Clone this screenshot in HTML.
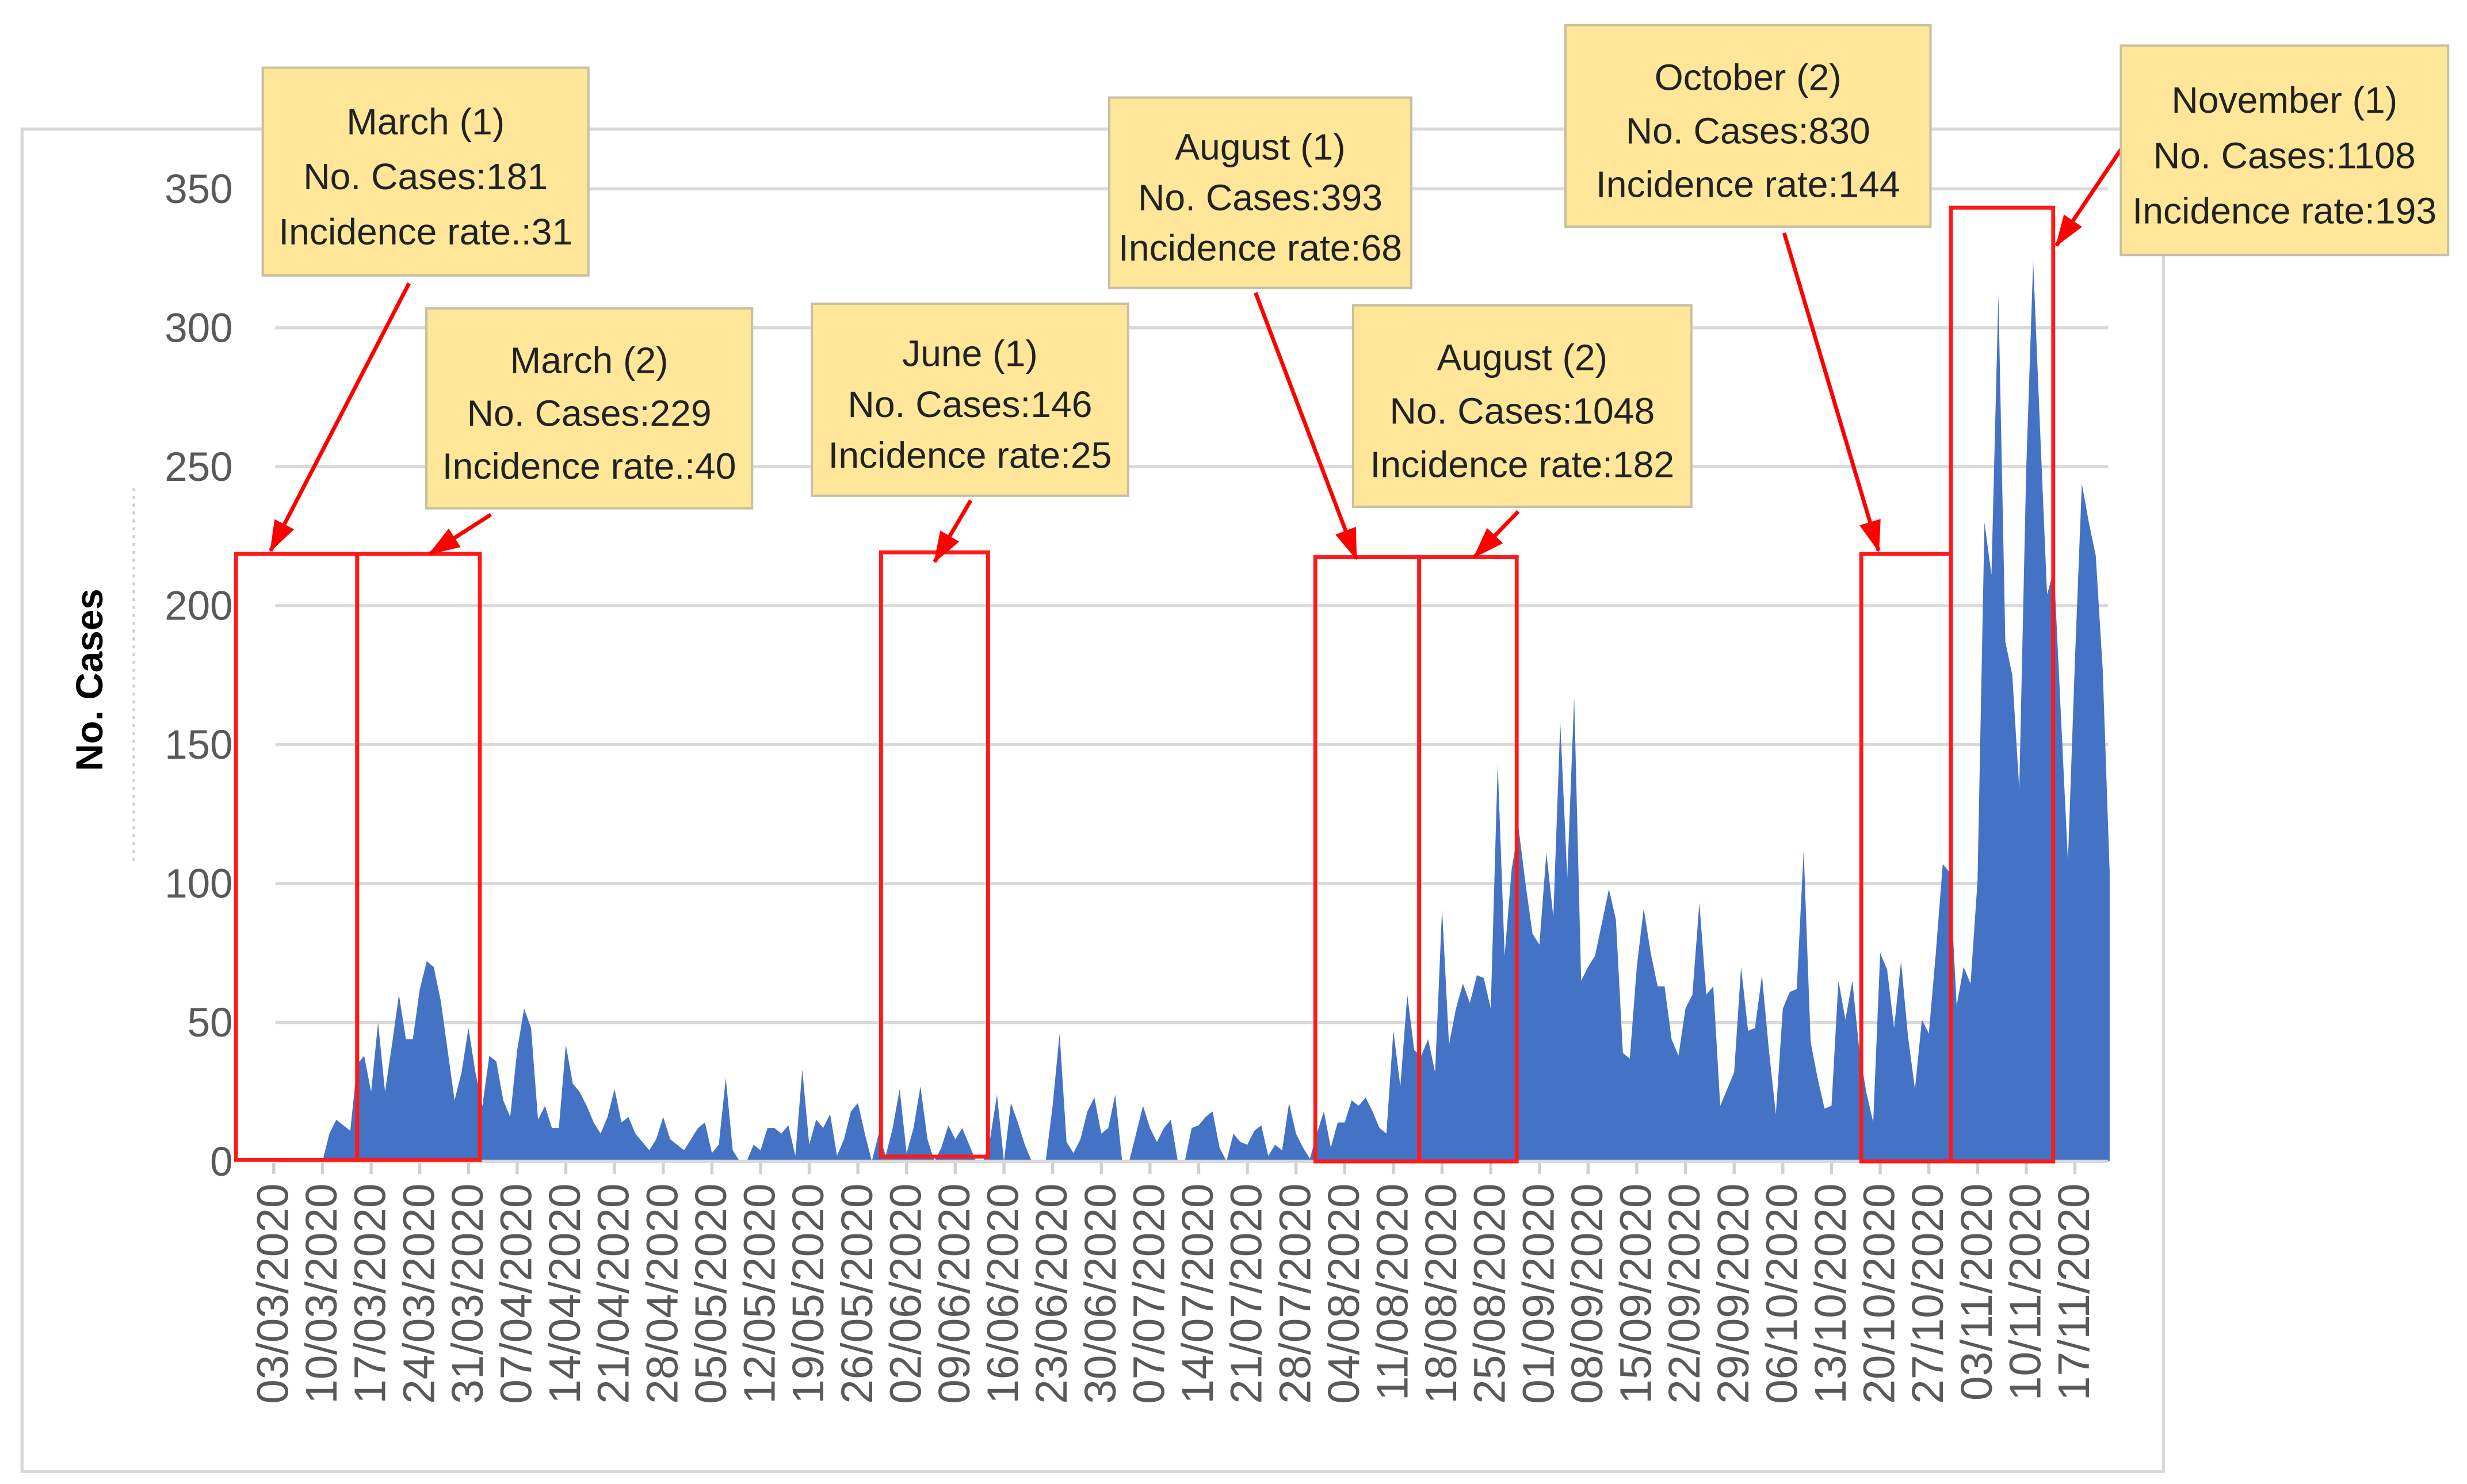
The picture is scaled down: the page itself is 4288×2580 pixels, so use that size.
<!DOCTYPE html>
<html><head><meta charset="utf-8"><style>
html,body{margin:0;padding:0;background:#fff;}
svg{display:block;}
text{font-family:"Liberation Sans",Arial,sans-serif;}
</style></head><body>
<svg id="chart" width="4288" height="2580" viewBox="0 0 1568 943" preserveAspectRatio="none" xmlns="http://www.w3.org/2000/svg">
<rect x="14" y="82" width="1361" height="853" fill="#fff" stroke="#d9d9d9" stroke-width="2"/>
<g id="grid"></g>
<g id="area"></g>
<g id="xaxis"></g>
<g id="yaxis"></g>
<line x1="85" y1="310" x2="85" y2="548" stroke="#cfcfcf" stroke-width="1.5" stroke-dasharray="2,3"/>
<text transform="translate(65,432) rotate(-90)" text-anchor="middle" font-size="24" font-weight="bold" fill="#000">No. Cases</text>
<g id="boxes"></g>
<g id="notes"></g>
</svg>
<script>
const categoriesStartDay = 0;
const cases = [0,0,0,0,0,0,0,0,10,15,13,11,
35,38,25,50,25,42,60,44,44,62,72,70,58,40,22,32,48,32,20,38,36,22,16,40,55,48,15,20,12,12,42,28,25,20,14,10,16,26,14,16,10,7,4,8,16,8,6,4,8,12,14,3,6,30,4,0,0,6,4,12,12,10,13,2,33,6,15,12,17,2,8,18,21,10,0,10,2,12,26,3,12,27,8,0,5,13,8,12,6,0,0,8,24,0,21,14,6,0,0,0,20,46,7,3,8,18,23,10,12,24,0,0,10,20,12,7,12,15,0,0,12,13,16,18,5,0,10,7,6,11,13,2,6,4,21,10,5,1,10,18,5,14,14,22,20,23,18,12,10,47,27,60,40,38,44,32,91,42,55,64,57,67,66,55,143,74,105,120,100,82,78,111,88,158,102,167,65,70,74,86,98,87,39,37,70,91,75,63,63,44,38,55,60,93,60,63,20,26,32,70,47,48,67,40,17,55,61,62,112,43,30,19,20,65,51,65,40,25,14,75,69,48,72,45,26,51,46,75,107,104,56,70,64,101,230,211,312,187,175,134,249,324,263,204,213,160,108,180,244,230,218,177,104];
const xTickLabels = ["03/03/2020","10/03/2020","17/03/2020","24/03/2020","31/03/2020","07/04/2020","14/04/2020","21/04/2020","28/04/2020","05/05/2020","12/05/2020","19/05/2020","26/05/2020","02/06/2020","09/06/2020","16/06/2020","23/06/2020","30/06/2020","07/07/2020","14/07/2020","21/07/2020","28/07/2020","04/08/2020","11/08/2020","18/08/2020","25/08/2020","01/09/2020","08/09/2020","15/09/2020","22/09/2020","29/09/2020","06/10/2020","13/10/2020","20/10/2020","27/10/2020","03/11/2020","10/11/2020","17/11/2020"];
const xTickDays = [0,7,14,21,28,35,42,49,56,63,70,77,84,91,98,105,112,119,126,133,140,147,154,161,168,175,182,189,196,203,210,217,224,231,238,245,252,259];
const yTicks = [0,50,100,150,200,250,300,350];
const annTitles = ["March (1)","March (2)","June (1)","August (1)","August (2)","October (2)","November (1)"];
const annCases = [181,229,146,393,1048,830,1108];
const annRates = ["Incidence rate.:31","Incidence rate.:40","Incidence rate:25","Incidence rate:68","Incidence rate:182","Incidence rate:144","Incidence rate:193"];

const NS="http://www.w3.org/2000/svg";
const X0=174, DX=4.42, Y0=738, YS=(738-120)/350;
function xs(d){return X0+DX*d;}
function ys(v){return Y0-YS*v;}
function mk(tag,attrs,parent){const e=document.createElementNS(NS,tag);for(const k in attrs)e.setAttribute(k,attrs[k]);parent.appendChild(e);return e;}

const grid=document.getElementById('grid'), yaxis=document.getElementById('yaxis');
yTicks.forEach(v=>{
  const l=mk('line',{x1:175,x2:1340,y1:ys(v),y2:ys(v),stroke:'#d9d9d9','stroke-width':2},grid);
  
  
  const t=mk('text',{x:148,y:ys(v)+9,'text-anchor':'end','font-size':26,fill:'#595959'},yaxis);
  t.textContent=v;
  
  
});

const area=document.getElementById('area');
let d='M'+xs(0)+','+ys(0);
cases.forEach((v,i)=>{d+=' L'+xs(categoriesStartDay+i).toFixed(2)+','+ys(v).toFixed(2);});
d+=' L'+xs(cases.length-1).toFixed(2)+','+ys(0)+' Z';
const p=mk('path',{d:d,fill:'#4472c4',stroke:'none'},area);



const xaxis=document.getElementById('xaxis');
const ax=mk('line',{x1:175,x2:1340,y1:Y0,y2:Y0,stroke:'#d9d9d9','stroke-width':2},xaxis);


xTickLabels.forEach((lab,i)=>{
  const x=xs(xTickDays[i]);
  const tk=mk('line',{x1:x,x2:x,y1:Y0+1,y2:Y0+8,stroke:'#d0d0d0','stroke-width':2},xaxis);
  
  
  const t=mk('text',{transform:'translate('+(x+9)+',752) rotate(-90)','text-anchor':'end','font-size':28,fill:'#595959'},xaxis);
  t.textContent=lab;
  
  
});

const boxes=document.getElementById('boxes');
const rb=[[150,352,227,737],[227,352,305,737],[560,351,628,735],[836,354,902,738],[902,354,964,738],[1183,352,1240,738],[1240,132,1305,738]];
rb.forEach(b=>{
  const r=mk('rect',{x:b[0],y:b[1],width:b[2]-b[0],height:b[3]-b[1],fill:'none',stroke:'#ff1a1a','stroke-width':2.5},boxes);
  
  
});

const notes=document.getElementById('notes');
const nb=[[167,43,374,175],[271,196,478,323],[516,193,717,315],[705,62,897,183],[860,194,1075,322],[995,16,1227,144],[1348,29,1556,162]];
const arrows=[[260,180,172,350],[312,327,273,352],[617,318,594,357],[798,186,862,355],[965,325,937,354],[1134,148,1194,350],[1348,95,1307,156]];
const defs=mk('defs',{},notes);
const mrk=mk('marker',{id:'ah',markerWidth:20,markerHeight:14,refX:19,refY:7,orient:'auto',markerUnits:'userSpaceOnUse'},defs);
mk('path',{d:'M0,0 L20,7 L0,14 Z',fill:'#ff0000'},mrk);
arrows.forEach(a=>{
  const l=mk('line',{x1:a[0],y1:a[1],x2:a[2],y2:a[3],stroke:'#ff0000','stroke-width':2.5,'marker-end':'url(#ah)'},notes);
  
  
});
nb.forEach((b,i)=>{
  const g=mk('g',{},notes);
  
  
  mk('rect',{x:b[0],y:b[1],width:b[2]-b[0],height:b[3]-b[1],fill:'#ffe699',stroke:'#c8c0a0','stroke-width':1.5},g);
  const cx=(b[0]+b[2])/2, h=b[3]-b[1];
  const lines=[annTitles[i],'No. Cases:'+annCases[i],annRates[i]];
  lines.forEach((s,j)=>{
    const t=mk('text',{x:cx,y:b[1]+h*(0.26+0.265*j)+8,'text-anchor':'middle','font-size':23.5,fill:'#222'},g);
    t.textContent=s;
    
    
  });
});
</script>
</body></html>
